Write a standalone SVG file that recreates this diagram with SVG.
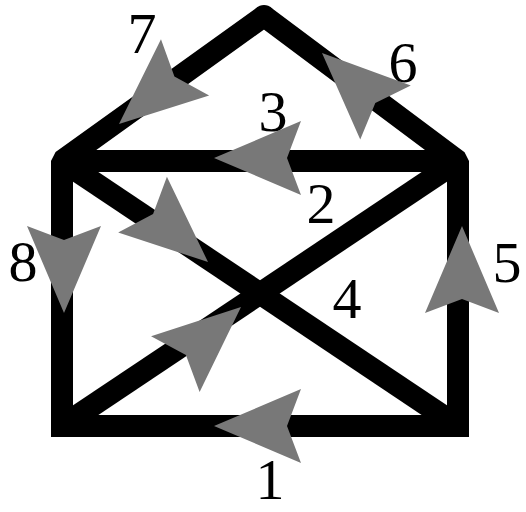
<svg xmlns="http://www.w3.org/2000/svg" width="526" height="512" viewBox="0 0 526 512">
<defs>
<style>
.ln{fill:none;stroke:#000;stroke-width:22}
.lb{font-family:"Liberation Serif","DejaVu Serif",serif;font-size:58px;fill:#000;text-anchor:middle}
</style>
<path id="ah" d="M0,0 L-87,-37 L-73,0 L-87,37 Z" fill="#787878"/>
</defs>
<rect width="526" height="512" fill="#fff"/>
<g id="house">
<path class="ln" d="M62,161 L62,426 L458,426 L458,161" stroke-linejoin="miter"/>
<path class="ln" d="M62,172 L62,161 L264,16 L458,161 L458,172" stroke-linejoin="bevel"/>
<circle cx="264" cy="16" r="11" fill="#000"/>
<path class="ln" d="M62,161 L458,161"/>
<path class="ln" d="M62,161 L458,426"/>
<path class="ln" d="M62,426 L458,161"/>
</g>
<g id="connectors">
<use href="#ah" transform="translate(214,426) rotate(180)"/>
<use href="#ah" transform="translate(214,158) rotate(180)"/>
<use href="#ah" transform="translate(208,262) rotate(41.2)"/>
<use href="#ah" transform="translate(241,307) rotate(-41)"/>
<use href="#ah" transform="translate(462,226) rotate(-90)"/>
<use href="#ah" transform="translate(322,53) rotate(-136.9)"/>
<use href="#ah" transform="translate(119,124) rotate(139.4)"/>
<use href="#ah" transform="translate(64,313) rotate(90)"/>
</g>
<g id="labels">
<text class="lb" x="270" y="499" font-size="55">1</text>
<text class="lb" x="321" y="223">2</text>
<text class="lb" x="273" y="131">3</text>
<text class="lb" x="347" y="318">4</text>
<text class="lb" x="507" y="282">5</text>
<text class="lb" x="403" y="82">6</text>
<text class="lb" x="142" y="53">7</text>
<text class="lb" x="23" y="281">8</text>
</g>
</svg>
